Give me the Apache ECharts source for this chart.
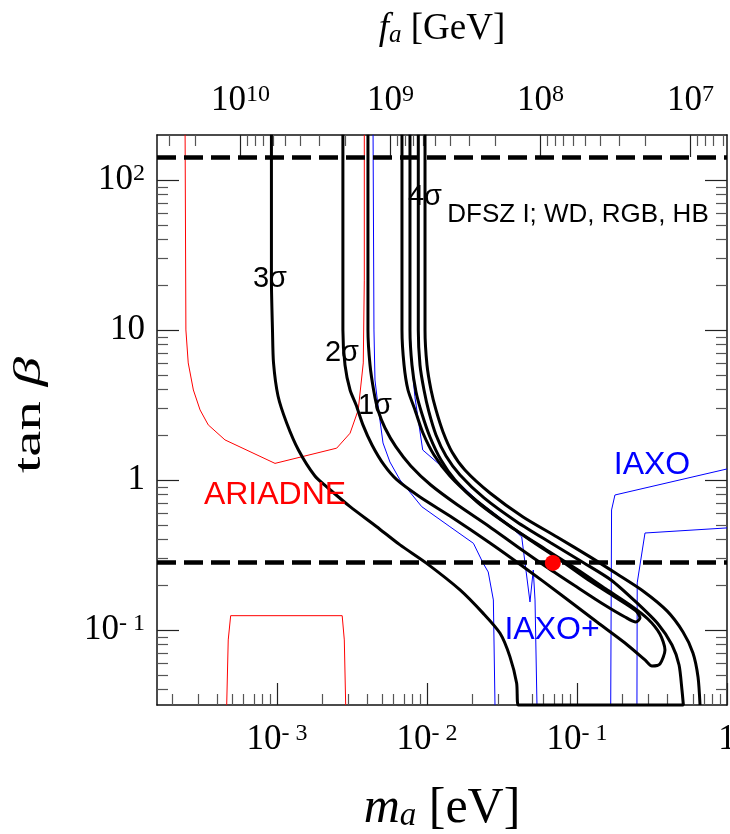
<!DOCTYPE html>
<html><head><meta charset="utf-8">
<script src="https://cdn.jsdelivr.net/npm/echarts@6/dist/echarts.min.js"></script>
<style>html,body{margin:0;padding:0;background:#fff}#c{width:730px;height:834px}</style>
</head><body><div id="c"></div>
<script>
// ---------------- data (m_a in eV, tan beta) ----------------
const mRange = [1.585e-4, 1.0];
const tRange = [0.0316, 199.5];
const faConst = 5.7e6;               // f_a[GeV] = faConst / m_a[eV]

const mMajorTicks = [1e-3, 1e-2, 1e-1, 1];
const mTickLabels = [['10','- 3'], ['10','- 2'], ['10','- 1'], ['1','']];
const tMajorTicks = [0.1, 1, 10, 100];
const tTickLabels = [['10','- 1'], ['1',''], ['10',''], ['10','2']];
const faMajorTicks = [1e7, 1e8, 1e9, 1e10];
const faTickLabels = [['10','7'], ['10','8'], ['10','9'], ['10','10']];

const ariadneU = [[2.44e-4,200],[2.47e-4,10],[2.56e-4,6.03],[2.77e-4,3.98],[3.07e-4,2.93],[3.48e-4,2.33],[4.50e-4,1.85],[9.70e-4,1.29],[2.50e-3,1.63],[3.07e-3,2.05],[3.48e-3,2.93],[3.76e-3,6.03],[3.82e-3,21.5],[3.82e-3,200]];
const ariadneBox = [[4.62e-4,0.0316],[4.73e-4,0.0858],[4.91e-4,0.1245],[2.72e-3,0.1245],[2.81e-3,0.0858],[2.87e-3,0.0316]];

const iaxoPlusLeft = [[4.37e-3,200],[4.43e-3,10],[4.50e-3,4.64],[4.71e-3,3.16],[5.09e-3,1.765],[5.66e-3,1.318],[6.61e-3,1.0],[9.22e-3,0.664],[0.01422,0.488],[0.0204,0.378],[0.0237,0.278],[0.0256,0.2435],[0.0277,0.1585],[0.0284,0.0316]];
const iaxoPlusRight = [[0.251,0.0316],[0.252,0.206],[0.284,0.443],[1.0,0.479]];
const iaxoLeft = [[7.70e-3,200],[7.70e-3,10],[7.94e-3,5.84],[8.30e-3,3.60],[9.36e-3,1.585],[0.01222,1.259],[0.02145,0.736],[0.0340,0.517],[0.0428,0.417],[0.0486,0.1537],[0.0511,0.251],[0.0525,0.1585],[0.0541,0.0316]];
const iaxoRight = [[0.1678,0.0316],[0.170,0.631],[0.179,0.794],[1.0,1.184]];

const sigma1 = [[4.04e-3,200],[4.04e-3,10],[4.17e-3,5.84],[4.43e-3,3.86],[4.71e-3,2.93],[5.25e-3,2.22],[6.21e-3,1.66],[7.80e-3,1.24],[0.01060,0.926],[0.0160,0.681],[0.0257,0.494],[0.0412,0.352],[0.0641,0.259],[0.0970,0.197],[0.149,0.149],[0.209,0.122],[0.247,0.113],[0.263,0.120],[0.247,0.134],[0.179,0.166],[0.1222,0.212],[0.0771,0.293],[0.0486,0.398],[0.0307,0.550],[0.01995,0.770],[0.01422,1.063],[0.01114,1.468],[9.40e-3,2.056],[8.32e-3,2.93],[7.47e-3,3.98],[7.03e-3,5.84],[6.81e-3,10],[6.81e-3,200]];
const sigma2 = [[2.75e-3,200],[2.75e-3,10],[2.84e-3,5.84],[3.07e-3,3.98],[3.37e-3,3.16],[3.74e-3,2.33],[4.30e-3,1.711],[5.17e-3,1.259],[6.31e-3,1.0],[8.98e-3,0.770],[0.01422,0.575],[0.0263,0.380],[0.0450,0.259],[0.0771,0.1738],[0.1359,0.113],[0.209,0.0819],[0.284,0.0631],[0.316,0.0575],[0.357,0.0593],[0.386,0.0736],[0.357,0.0940],[0.297,0.1184],[0.2256,0.1468],[0.156,0.1876],[0.1016,0.251],[0.0612,0.347],[0.0363,0.486],[0.0219,0.703],[0.01537,1.0],[0.01240,1.359],[0.01047,1.935],[9.26e-3,2.754],[8.45e-3,3.86],[7.94e-3,5.84],[7.70e-3,10],[7.70e-3,200]];
const sigma3 = [[9.18e-4,200],[9.18e-4,21.5],[9.33e-4,10],[9.48e-4,6.03],[1.016e-3,3.63],[1.16e-3,2.40],[1.39e-3,1.585],[1.79e-3,1.063],[2.19e-3,0.884],[3.07e-3,0.664],[4.62e-3,0.488],[6.61e-3,0.369],[9.95e-3,0.278],[0.0166,0.185],[0.0237,0.129],[0.0307,0.0950],[0.0357,0.0664],[0.0396,0.0441],[0.0406,0.0316],[0.512,0.0316],[0.501,0.0398],[0.479,0.0584],[0.430,0.0794],[0.347,0.1096],[0.247,0.1537],[0.1686,0.2154],[0.1113,0.2797],[0.0671,0.380],[0.0398,0.525],[0.0240,0.759],[0.0166,1.080],[0.01339,1.445],[0.01148,1.995],[0.0103,2.84],[9.55e-3,3.98],[8.98e-3,5.84],[8.75e-3,10],[8.75e-3,200]];
const sigma4 = [[9.70e-3,200],[9.70e-3,10],[0.0100,5.84],[0.01064,3.98],[0.01148,2.93],[0.01279,2.09],[0.01468,1.537],[0.0179,1.166],[0.0263,0.819],[0.0437,0.567],[0.0736,0.417],[0.1222,0.307],[0.1849,0.236],[0.2754,0.182],[0.398,0.134],[0.509,0.0970],[0.593,0.0703],[0.641,0.0486],[0.661,0.0316]];

const tanBetaLimits = [0.28, 140];
const bestFit = [0.069, 0.28];

// ---------------- build ----------------
const L = Math.log10;
const lg = arr => arr.map(p => [L(p[0]), L(p[1])]);
function minorTicks(lo, hi) {
  const out = [];
  for (let e = Math.floor(L(lo)) - 1; e <= Math.ceil(L(hi)); e++)
    for (let k = 2; k <= 9; k++) { const v = k * Math.pow(10, e); if (v > lo && v < hi) out.push(L(v)); }
  return out;
}
const SERIF = 'Liberation Serif';
const tickRich = {
  b: { fontFamily: SERIF, fontSize: 35, lineHeight: 36, color: '#000' },
  s: { fontFamily: SERIF, fontSize: 24, lineHeight: 14, verticalAlign: 'top', color: '#000' }
};
function fmt(ticks, labels) {
  return v => { let i = 0, d = 1e9; ticks.forEach((t, j) => { const dd = Math.abs(L(t) - v); if (dd < d) { d = dd; i = j; } });
    const l = labels[i]; return '{b|' + l[0] + '}' + (l[1] ? '{s|' + l[1] + '}' : ''); };
}
const boxLine = { show: true, onZero: false, lineStyle: { color: '#111', width: 1.5 } };
const noLine = { show: false, onZero: false };
const majTick = vals => ({ show: true, inside: true, length: 22, customValues: vals, lineStyle: { color: '#222', width: 1.2 } });
const minTick = vals => ({ show: true, inside: true, length: 11, customValues: vals, lineStyle: { color: '#555', width: 1.2 } });

const mLo = L(mRange[0]), mHi = L(mRange[1]);
const tLo = L(tRange[0]), tHi = L(tRange[1]);
const faLo = L(faConst / mRange[1]), faHi = L(faConst / mRange[0]);

const chart = echarts.init(document.getElementById('c'), null, { renderer: 'canvas' });
const blk = (data) => ({ type: 'line', data: lg(data), showSymbol: false, smooth: 0.25, clip: false, z: 5,
  lineStyle: { color: '#000', width: 3 }, emphasis: { disabled: true }, animation: false });
const thin = (data, c) => ({ type: 'line', data: lg(data), showSymbol: false, clip: false, z: 3,
  lineStyle: { color: c, width: 1 }, emphasis: { disabled: true }, animation: false });
const lbl = (x, y, text, size, color) => ({ type: 'text', x: x, y: y, z: 20,
  style: { text: text, font: size + 'px "Liberation Sans"', fill: color, align: 'center', verticalAlign: 'middle' } });

chart.setOption({
  animation: false,
  grid: { left: 157, right: 3, top: 135, bottom: 129, containLabel: false, outerBoundsMode: 'none' },
  xAxis: [
    { type: 'value', position: 'bottom', min: mLo, max: mHi, axisLine: boxLine, splitLine: { show: false },
      axisTick: majTick(mMajorTicks.map(L)),
      axisLabel: { customValues: mMajorTicks.map(L), margin: 17, formatter: fmt(mMajorTicks, mTickLabels), rich: tickRich },
      name: '{i|m}{s|a}{r| [eV]}', nameLocation: 'middle', nameGap: 80,
      nameTextStyle: { rich: {
        i: { fontFamily: SERIF, fontStyle: 'italic', fontSize: 50, lineHeight: 48, color: '#000' },
        s: { fontFamily: SERIF, fontStyle: 'italic', fontSize: 33, lineHeight: 18, verticalAlign: 'bottom', color: '#000' },
        r: { fontFamily: SERIF, fontSize: 50, lineHeight: 48, color: '#000' } } } },
    { type: 'value', position: 'bottom', min: mLo, max: mHi, axisLine: noLine, splitLine: { show: false },
      axisTick: minTick(minorTicks(mRange[0], mRange[1])), axisLabel: { show: false } },
    { type: 'value', position: 'top', min: faLo, max: faHi, inverse: true, axisLine: boxLine, splitLine: { show: false },
      axisTick: majTick(faMajorTicks.map(L)),
      axisLabel: { customValues: faMajorTicks.map(L), margin: 16, formatter: fmt(faMajorTicks, faTickLabels), rich: tickRich },
      name: '{i|f}{s|a}{r| [GeV]}', nameLocation: 'middle', nameGap: 87,
      nameTextStyle: { rich: {
        i: { fontFamily: SERIF, fontStyle: 'italic', fontSize: 37, lineHeight: 37, color: '#000' },
        s: { fontFamily: SERIF, fontStyle: 'italic', fontSize: 25, lineHeight: 14, verticalAlign: 'bottom', color: '#000' },
        r: { fontFamily: SERIF, fontSize: 37, lineHeight: 37, color: '#000' } } } },
    { type: 'value', position: 'top', min: faLo, max: faHi, inverse: true, axisLine: noLine, splitLine: { show: false },
      axisTick: minTick(minorTicks(faConst / mRange[1], faConst / mRange[0])), axisLabel: { show: false } }
  ],
  yAxis: [
    { type: 'value', position: 'left', min: tLo, max: tHi, axisLine: boxLine, splitLine: { show: false },
      axisTick: majTick(tMajorTicks.map(L)),
      axisLabel: { customValues: tMajorTicks.map(L), margin: 12, formatter: fmt(tMajorTicks, tTickLabels), rich: tickRich } },
    { type: 'value', position: 'left', min: tLo, max: tHi, axisLine: noLine, splitLine: { show: false },
      axisTick: minTick(minorTicks(tRange[0], tRange[1])), axisLabel: { show: false } },
    { type: 'value', position: 'right', min: tLo, max: tHi, axisLine: boxLine, splitLine: { show: false },
      axisTick: majTick(tMajorTicks.map(L)), axisLabel: { show: false } },
    { type: 'value', position: 'right', min: tLo, max: tHi, axisLine: noLine, splitLine: { show: false },
      axisTick: minTick(minorTicks(tRange[0], tRange[1])), axisLabel: { show: false } }
  ],
  series: [
    thin(ariadneU, '#ff0000'), thin(ariadneBox, '#ff0000'),
    thin(iaxoPlusLeft, '#0000ff'), thin(iaxoPlusRight, '#0000ff'),
    thin(iaxoLeft, '#0000ff'), thin(iaxoRight, '#0000ff'),
    blk(sigma3), blk(sigma2), blk(sigma1), blk(sigma4),
    { type: 'line', data: [], showSymbol: false, z: 6,
      markLine: { silent: true, symbol: ['none', 'none'], label: { show: false },
        lineStyle: { color: '#000', width: 4.5, type: [19, 8] },
        data: tanBetaLimits.map(t => ({ yAxis: L(t) })) } },
    { type: 'scatter', data: [[L(bestFit[0]), L(bestFit[1])]], symbolSize: 16, z: 8,
      itemStyle: { color: '#ff0000', opacity: 1 }, emphasis: { disabled: true } }
  ],
  graphic: [
    { type: 'text', x: 30, y: 415, rotation: Math.PI / 2, scaleX: 1.55, z: 20,
      style: { text: '{r|tan }{i|β}', align: 'center', verticalAlign: 'middle',
        rich: { r: { fontFamily: SERIF, fontSize: 38, fill: '#000' },
                i: { fontFamily: SERIF, fontStyle: 'italic', fontSize: 38, fill: '#000' } } } },
    lbl(270, 279, '3σ', 29, '#000'),
    lbl(342, 353, '2σ', 29, '#000'),
    lbl(375, 406, '1σ', 29, '#000'),
    lbl(425, 197, '4σ', 29, '#000'),
    lbl(578, 215, 'DFSZ I; WD, RGB, HB', 26, '#000'),
    lbl(275, 495, 'ARIADNE', 32, '#ff0000'),
    lbl(652, 465, 'IAXO', 32, '#0000ff'),
    lbl(552, 630, 'IAXO+', 32, '#0000ff')
  ]
});
</script></body></html>
